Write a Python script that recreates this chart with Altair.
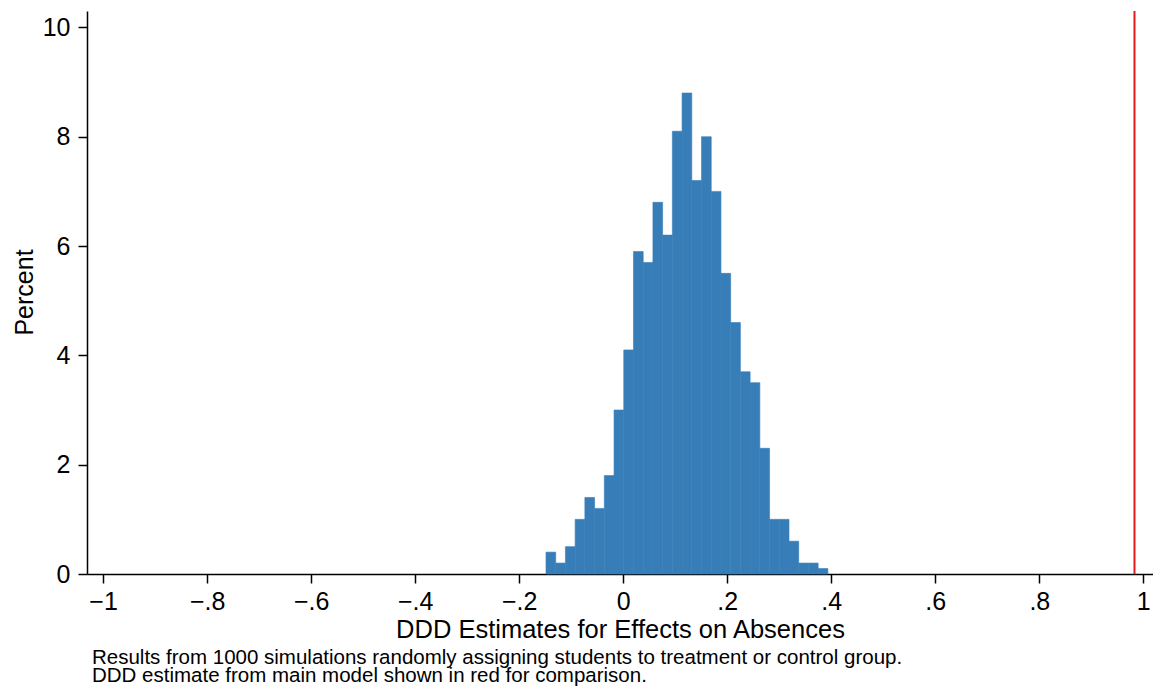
import altair as alt
import pandas as pd

# Histogram of simulated DDD estimates (percent per bin)
bin_start = -0.1485
bin_width = 0.01869
percent = [0.4, 0.2, 0.5, 1.0, 1.4, 1.2, 1.8, 3.0, 4.1, 5.9, 5.7, 6.8, 6.2, 8.1, 8.8,
           7.2, 8.0, 7.0, 5.5, 4.6, 3.7, 3.5, 2.3, 1.0, 1.0, 0.6, 0.2, 0.2, 0.1]
main_estimate = [0.983]
x_ticks = [-1, -0.8, -0.6, -0.4, -0.2, 0, 0.2, 0.4, 0.6, 0.8, 1]
y_ticks = [0, 2, 4, 6, 8, 10]
x_title = "DDD Estimates for Effects on Absences"
y_title = "Percent"
note_lines = [
    "Results from 1000 simulations randomly assigning students to treatment or control group.",
    "DDD estimate from main model shown in red for comparison.",
]

FONT = "Liberation Sans"
W, H = 1066, 563

lo = [bin_start + i * bin_width for i in range(len(percent))]
hist = pd.DataFrame({"lo": lo, "hi": [v + bin_width for v in lo], "pct": percent})
red = pd.DataFrame({"x": main_estimate})

xscale = alt.Scale(domain=[-1.031, 1.0186], nice=False, zero=False)
yscale = alt.Scale(domain=[0, 10.3], nice=False)

label_expr = ("datum.value == 0 ? '0' : replace(replace(format(datum.value, '.1~f'), '0.', '.'), '-', '\u2212')")

bars = alt.Chart(hist).mark_rect(color="#377eb8", stroke="#377eb8", strokeWidth=0.6).encode(
    x=alt.X("lo:Q", scale=xscale,
            axis=alt.Axis(values=x_ticks, labelExpr=label_expr, title=x_title,
                          titleFontSize=25.5, titleFont=FONT, titleFontWeight="normal",
                          titleColor="black", titleY=63, titleBaseline="alphabetic",
                          labelFont=FONT, labelFontSize=25, labelColor="black",
                          labelBaseline="alphabetic", labelPadding=26,
                          labelFlush=False, labelOverlap=False,
                          tickSize=9, tickColor="black", tickWidth=1.5,
                          domainColor="black", domainWidth=1.5, grid=False)),
    x2="hi:Q",
    y=alt.Y("pct:Q", scale=yscale,
            axis=alt.Axis(values=y_ticks, title=y_title,
                          titleFontSize=25, titleFont=FONT, titleFontWeight="normal",
                          titleColor="black", titleX=-54.5, titleY=H / 2 - 0.5,
                          titleBaseline="alphabetic", titleAngle=270,
                          labelFont=FONT, labelFontSize=25, labelColor="black",
                          labelPadding=8, labelFlush=False, labelOverlap=False,
                          tickSize=9, tickColor="black", tickWidth=1.5,
                          domainColor="black", domainWidth=1.5, grid=False)),
    y2=alt.datum(0),
)

rule = alt.Chart(red).mark_rule(color="#e41a1c", strokeWidth=2).encode(
    x=alt.X("x:Q", scale=xscale)
)

note = alt.Chart(pd.DataFrame({"k": [0]})).mark_text(
    text=note_lines, align="left", baseline="alphabetic", font=FONT,
    fontSize=20.5, lineHeight=18, color="black"
).encode(x=alt.value(5), y=alt.value(653))

chart = alt.layer(rule, bars, note).properties(
    width=W, height=H,
    autosize=alt.AutoSizeParams(type="none"),
    padding={"left": 79, "top": 3, "right": 0, "bottom": 112},
    background="white",
).configure_view(stroke=None)

chart.save("out.html", embed_options={"renderer": "svg", "actions": False})
